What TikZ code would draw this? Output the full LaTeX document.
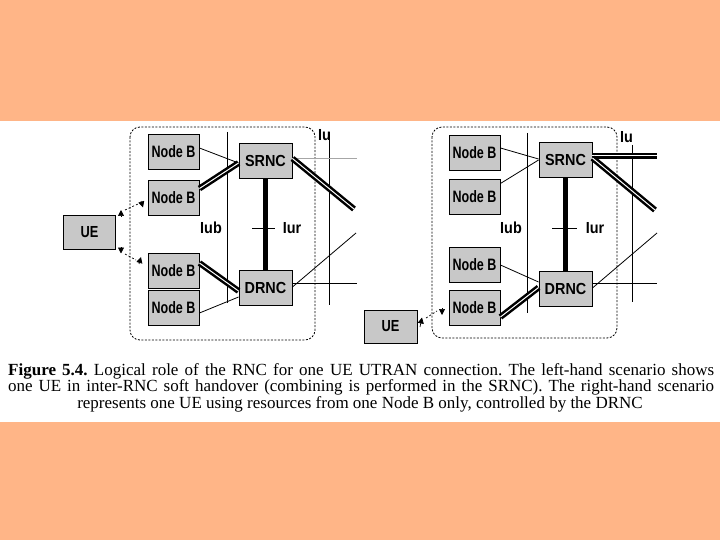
\documentclass[tikz,border=0pt]{standalone}
\usepackage{fontspec}
\setmainfont{Liberation Serif}
\newfontfamily\narrowf[FakeStretch=0.76]{Liberation Sans}
\newfontfamily\uef[FakeStretch=0.8]{Liberation Sans}
\newfontfamily\medf[FakeStretch=0.9]{Liberation Sans}
\usetikzlibrary{arrows.meta,calc}
\definecolor{peach}{RGB}{255,181,135}
\definecolor{boxgray}{RGB}{200,200,200}
\newcommand{\capline}[1]{{\frenchspacing\spaceskip=0.25em plus 0.3em minus 0.12em\makebox[706pt][s]{#1}}}
\begin{document}
\begin{tikzpicture}[x=1pt,y=-1pt,
  box/.style={draw=black, line width=0.9pt, fill=boxgray, inner sep=0pt,
    font=\medf\bfseries\fontsize{16}{16}\selectfont},
  nb/.style={box, minimum width=51pt, minimum height=35pt,
    font=\narrowf\bfseries\fontsize{16.5}{16}\selectfont},
  rnc/.style={box, minimum width=53pt, minimum height=35pt},
  uebox/.style={box, minimum width=52pt, minimum height=34pt,
    font=\uef\bfseries\fontsize{16}{16}\selectfont},
  lbl/.style={inner sep=0pt, font=\medf\bfseries\fontsize{16}{16}\selectfont},
  thinln/.style={line width=0.8pt},
  dbl/.style={line width=2.5pt, double=white, double distance=1pt},
  iurln/.style={line width=5pt},
  grayln/.style={line width=0.9pt, draw=black!35},
  area/.style={line width=0.8pt, dash pattern=on 2pt off 1.5pt, rounded corners=10pt},
  dsh/.style={line width=0.7pt, dash pattern=on 2pt off 2pt},
  tipst/.style={line width=0.7pt, -{Triangle[length=6pt,width=6pt]}},
  captext/.style={inner sep=0pt, font=\fontsize{17}{18}\selectfont}
]
\useasboundingbox (0,0) rectangle (720,540);
\fill[peach] (0,0) rectangle (720,540);
\fill[white] (0,121) rectangle (720,422);

% ================= LEFT SCENARIO =================
\draw[area] (130,127) rectangle (315,340);
\draw[thinln] (227,132) -- (227,303);
\draw[thinln] (329,132) -- (329,305);
\node[lbl, anchor=east] (iuL) at (331,135) {Iu};
\node[lbl] (iubL) at (211,228) {Iub};
\node[lbl] (iurL) at (292,228) {Iur};

\node[nb] (nb1L) at (173.5,151.5) {Node B};
\node[nb] (nb2L) at (173.5,197.5) {Node B};
\node[nb] (nb3L) at (173.5,270.5) {Node B};
\node[nb] (nb4L) at (173.5,307.5) {Node B};
\node[rnc] (srncL) at (265.5,160.5) {SRNC};
\node[rnc] (drncL) at (265.5,288) {DRNC};
\node[uebox] (ueL) at (89.5,232.5) {UE};

\draw[iurln] (srncL.south) -- (drncL.north);
\draw[thinln] (252,228) -- (275,228);

\draw[thinln] ([yshift=3.5pt]nb1L.east) -- ([yshift=-2.5pt]srncL.west);
\draw[dbl] ([yshift=9pt]nb2L.east) -- ([yshift=-2.5pt]srncL.west);
\draw[dbl] ([yshift=7.5pt]nb3L.east) -- ([yshift=-3pt]drncL.west);
\draw[thinln] ([yshift=-5.5pt]nb4L.east) -- ([yshift=-9pt]drncL.west);

\coordinate (sgL) at (357,158);
\coordinate (sdL) at (354,209);
\coordinate (dhL) at (357,283);
\coordinate (ddL) at (356,233);
\draw[grayln] ([yshift=2.5pt]srncL.east) -- (sgL);
\draw[dbl] ([yshift=2pt]srncL.east) -- (sdL);
\draw[thinln] ([yshift=5pt]drncL.east) -- (dhL);
\draw[thinln] ([yshift=1pt]drncL.east) -- (ddL);

% UE radio links (left)
\coordinate (ua1) at (125,210);
\coordinate (ub1) at (138,204);
\coordinate (ua2) at (125,254);
\coordinate (ub2) at (136,260);
\draw[dsh] (ua1) -- (ub1);
\draw[dsh] (ua2) -- (ub2);
\draw[tipst] (121,217) -- (121,210);
\draw[tipst] (141,201) -- (143,207.5);
\draw[tipst] (121,247) -- (121,253.5);
\draw[tipst] (139,264) -- (141,257);

% ================= RIGHT SCENARIO =================
\draw[area] (432,127) rectangle (617,338);
\draw[thinln] (527,133) -- (527,313);
\draw[thinln] (632,145) -- (632,302);
\node[lbl, anchor=east] (iuR) at (633,137) {Iu};
\node[lbl] (iubR) at (511,228) {Iub};
\node[lbl] (iurR) at (595,228) {Iur};

\node[nb] (nb1R) at (474.5,152.5) {Node B};
\node[nb] (nb2R) at (474.5,197) {Node B};
\node[nb] (nb3R) at (474.5,264.5) {Node B};
\node[nb] (nb4R) at (474.5,307.5) {Node B};
\node[rnc] (srncR) at (565.5,160) {SRNC};
\node[rnc] (drncR) at (565.5,288.5) {DRNC};
\node[uebox, minimum width=53pt, minimum height=33pt] (ueR) at (390.5,326.5) {UE};

\draw[iurln] (srncR.south) -- (drncR.north);
\draw[thinln] (552,228) -- (577,228);

\draw[thinln] ([yshift=4.5pt]nb1R.east) -- ([yshift=1pt]srncR.west);
\draw[thinln] ([yshift=13.5pt]nb2R.east) -- ([yshift=0pt]srncR.west);
\draw[thinln] ([yshift=-0.5pt]nb3R.east) -- ([yshift=6.5pt]drncR.west);
\draw[dbl] ([yshift=-9.5pt]nb4R.east) -- ([yshift=1pt]drncR.west);

\coordinate (shR) at (657,156);
\coordinate (sdR) at (655,210);
\coordinate (dhR) at (657,283);
\coordinate (ddR) at (657,233);
\draw[dbl] ([yshift=4pt]srncR.east) -- (shR);
\draw[dbl] ([yshift=2pt]srncR.east) -- (sdR);
\draw[thinln] ([yshift=5.5pt]drncR.east) -- (dhR);
\draw[thinln] ([yshift=0.5pt]drncR.east) -- (ddR);

% UE radio link (right)
\coordinate (ua3) at (426,318);
\coordinate (ub3) at (437,311);
\draw[dsh] (ua3) -- (ub3);
\draw[tipst] (420,327) -- (422,317.5);
\draw[tipst] (442,308) -- (442,315);

% ================= CAPTION =================
\node[captext, anchor=base west] (c1) at (8,375) {\capline{\textbf{Figure 5.4.} Logical role of the RNC for one UE UTRAN connection. The left-hand scenario shows}};
\node[captext, anchor=base west] (c2) at (8,391.5) {\capline{one UE in inter-RNC soft handover (combining is performed in the SRNC). The right-hand scenario}};
\node[captext, anchor=base] (c3) at (360,408) {represents one UE using resources from one Node B only, controlled by the DRNC};
\end{tikzpicture}
\end{document}
